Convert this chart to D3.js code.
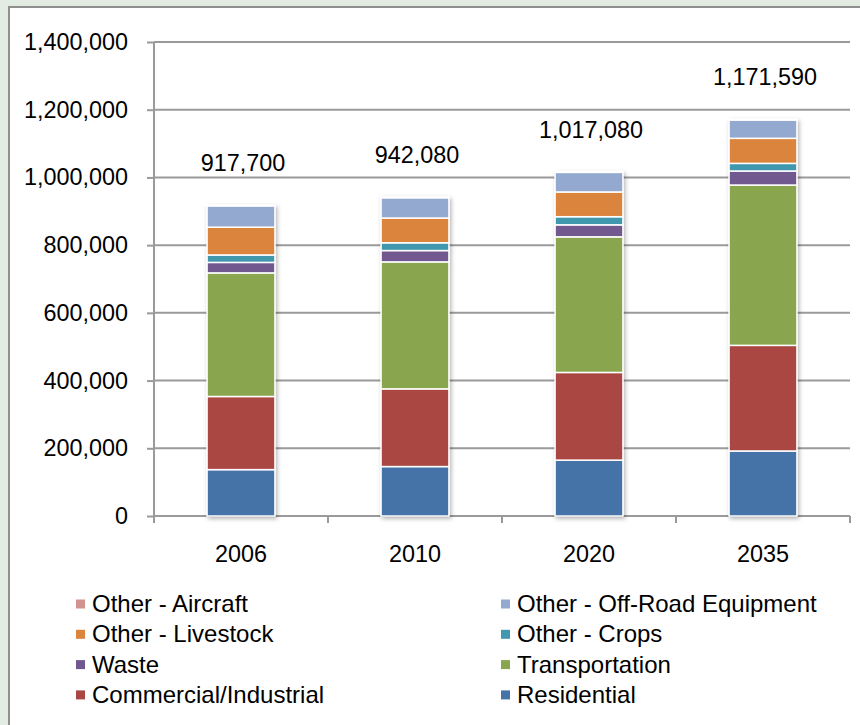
<!DOCTYPE html>
<html>
<head>
<meta charset="utf-8">
<script src="https://cdn.jsdelivr.net/npm/d3@7"></script>
<style>
  html, body { margin: 0; padding: 0; background: #e3ece3; }
  svg { display: block; }
</style>
</head>
<body>
<svg id="chart" width="860" height="725"></svg>
<script>
// ---- data ----
const years = ["2006", "2010", "2020", "2035"];
const seriesNames = [
  "Residential", "Commercial/Industrial", "Transportation", "Waste",
  "Other - Crops", "Other - Livestock", "Other - Off-Road Equipment", "Other - Aircraft"
];
const residential   = [137000, 146000, 165000, 192000];
const commercial    = [216000, 229500, 259000, 312000];
const transportation= [365000, 375000, 400500, 473500];
const waste         = [31000, 33500, 35500, 41500];
const crops         = [22000, 23000, 24000, 22500];
const livestock     = [82000, 73000, 73000, 74000];
const offRoad       = [63000, 60000, 58000, 54000];
const aircraft      = [1700, 2080, 2080, 2090];
const totals        = [917700, 942080, 1017080, 1171590];
const yTicks        = [0, 200000, 400000, 600000, 800000, 1000000, 1200000, 1400000];
const legendOrder   = [
  "Other - Aircraft", "Other - Off-Road Equipment",
  "Other - Livestock", "Other - Crops",
  "Waste", "Transportation",
  "Commercial/Industrial", "Residential"
];

(function () {
const seriesValues = [residential, commercial, transportation, waste, crops, livestock, offRoad, aircraft];
const colors = {
  "Residential": "#4572a7",
  "Commercial/Industrial": "#aa4643",
  "Transportation": "#89a54e",
  "Waste": "#71588f",
  "Other - Crops": "#4198af",
  "Other - Livestock": "#db843d",
  "Other - Off-Road Equipment": "#93a9cf",
  "Other - Aircraft": "#d19392"
};

const table = years.map((yr, i) => {
  const row = { year: yr };
  seriesNames.forEach((s, k) => row[s] = seriesValues[k][i]);
  return row;
});

const svg = d3.select("#chart");
const font = "'Liberation Sans', Arial, sans-serif";
const fs = 23.4;

svg.append("rect").attr("x", 9).attr("y", 7).attr("width", 860).attr("height", 725)
  .attr("fill", "#ffffff").attr("stroke", "#8f8f8f").attr("stroke-width", 2);

const pLeft = 154, pRight = 850, pTop = 42, pBottom = 516;

const x = d3.scaleBand().domain(years).range([pLeft, pRight]).paddingInner(0.61).paddingOuter(0.305);
const y = d3.scaleLinear().domain([0, 1400000]).range([pBottom, pTop]);

const defs = svg.append("defs");
const f = defs.append("filter").attr("id", "shadow").attr("x", "-20%").attr("y", "-20%").attr("width", "140%").attr("height", "140%");
f.append("feDropShadow").attr("dx", 1.5).attr("dy", 2).attr("stdDeviation", 2).attr("flood-color", "#000").attr("flood-opacity", 0.3);

// gridlines
svg.append("g").selectAll("line").data(yTicks.filter(d => d > 0)).join("line")
  .attr("x1", pLeft).attr("x2", pRight)
  .attr("y1", d => y(d)).attr("y2", d => y(d))
  .attr("stroke", "#9a9a9a").attr("stroke-width", 2);

// y axis
const yAxis = d3.axisLeft(y).tickValues(yTicks).tickSize(7).tickPadding(19)
  .tickFormat(d3.format(","));
const gy = svg.append("g").attr("transform", `translate(${pLeft},0)`).call(yAxis);
gy.select(".domain").attr("stroke", "#9a9a9a").attr("stroke-width", 2).attr("d", `M0,${pBottom}V${pTop}`);
gy.selectAll(".tick line").attr("stroke", "#9a9a9a").attr("stroke-width", 2);
gy.selectAll(".tick text").attr("font-family", font).attr("font-size", fs).attr("fill", "#000");

// x axis
const xAxis = d3.axisBottom(x).tickSize(0).tickPadding(29);
const gx = svg.append("g").attr("transform", `translate(0,${pBottom})`).call(xAxis);
gx.select(".domain").attr("stroke", "#9a9a9a").attr("stroke-width", 2).attr("d", `M${pLeft},0H${pRight}`);
gx.selectAll(".tick text").attr("font-family", font).attr("font-size", fs).attr("fill", "#000");
const sepPositions = years.map(d => x(d) - x.step() * x.paddingInner() / 2).concat([pRight]);
gx.append("g").selectAll("line").data(sepPositions).join("line")
  .attr("x1", d => d).attr("x2", d => d).attr("y1", 0).attr("y2", 7)
  .attr("stroke", "#9a9a9a").attr("stroke-width", 2);

// stacked bars
const stack = d3.stack().keys(seriesNames)(table);
const gBars = svg.append("g");
years.forEach((yr, i) => {
  const g = gBars.append("g").attr("filter", "url(#shadow)");
  stack.forEach(layer => {
    const d = layer[i];
    g.append("rect")
      .attr("x", x(yr)).attr("width", x.bandwidth())
      .attr("y", y(d[1])).attr("height", Math.max(0, y(d[0]) - y(d[1])))
      .attr("fill", colors[layer.key])
      .attr("stroke", "#ffffff").attr("stroke-width", 1.5);
  });
});

// total labels
svg.append("g").selectAll("text").data(years).join("text")
  .attr("x", d => x(d) + x.bandwidth() / 2 + 2)
  .attr("y", (d, i) => y(totals[i]) - 34)
  .attr("text-anchor", "middle")
  .attr("font-family", font).attr("font-size", fs).attr("fill", "#000")
  .text((d, i) => d3.format(",")(totals[i]));

// legend
const legend = svg.append("g");
legendOrder.forEach((name, i) => {
  const col = i % 2, row = Math.floor(i / 2);
  const lx = col === 0 ? 76 : 501;
  const ly = 604 + row * 30.3;
  legend.append("rect").attr("x", lx).attr("y", ly - 4.5).attr("width", 9).attr("height", 9)
    .attr("fill", colors[name]);
  legend.append("text").attr("x", lx + 16).attr("y", ly + 8)
    .attr("font-family", font).attr("font-size", 24).attr("fill", "#000")
    .text(name);
});
})();
</script>
</body>
</html>
